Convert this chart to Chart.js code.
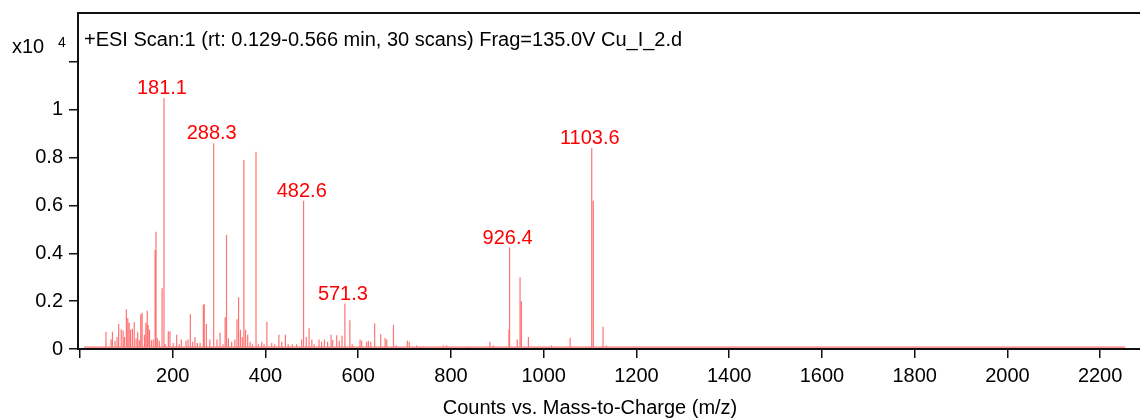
<!DOCTYPE html>
<html>
<head>
<meta charset="utf-8">
<script src="https://cdn.jsdelivr.net/npm/chart.js@4.4.1/dist/chart.umd.min.js"></script>
<style>
  html, body { margin: 0; padding: 0; background: #ffffff; }
  #wrap { width: 1140px; height: 418px; position: relative; }
</style>
</head>
<body>
<div id="wrap"><canvas id="c" width="1140" height="418"></canvas></div>
<script>
// ---- Data (m/z, counts x10^4) ----
const peakMz = [56, 67, 70, 75.5, 80, 83.5, 89, 93, 96, 100, 103, 106, 109, 113, 117, 121, 124.5, 128, 131, 134,
  139, 142, 145, 147, 150, 154, 158, 162, 164, 167, 171, 177, 181.1, 184, 190.5, 194, 201, 208.5, 214, 218.5,
  228.6, 233, 238, 243, 248, 253, 259, 266, 268, 272.5, 280, 288.3, 295.5, 302, 308.5, 313, 316, 320, 327, 334,
  338.6, 342, 346, 350, 353.5, 357, 361.7, 367, 372, 379.6, 384.6, 392, 397, 403, 413.5, 420, 429, 435, 443, 449,
  458, 467, 478, 481.5, 482.6, 488, 494, 500, 505, 515.5, 521, 527, 534, 541.5, 545, 553.6, 559, 565, 571.3, 582,
  587, 604, 607.6, 618, 622, 627, 635.5, 648.6, 658, 661.5, 676, 682, 706, 710, 726, 740, 784, 791, 838, 884,
  891.6, 925, 926.4, 943, 949, 952, 967, 1017, 1057, 1103.6, 1107, 1128, 1135];
const peakCounts = [0.072, 0.04, 0.072, 0.035, 0.05, 0.105, 0.082, 0.077, 0.05, 0.166, 0.13, 0.11, 0.08, 0.085, 0.113, 0.045, 0.07, 0.038, 0.145, 0.152,
  0.06, 0.11, 0.16, 0.1, 0.08, 0.037, 0.04, 0.414, 0.49, 0.045, 0.035, 0.254, 1.05, 0.02, 0.074, 0.074, 0.025, 0.06, 0.02, 0.04,
  0.035, 0.04, 0.145, 0.03, 0.05, 0.025, 0.025, 0.184, 0.188, 0.105, 0.04, 0.86, 0.04, 0.068, 0.02, 0.133, 0.477, 0.045, 0.03, 0.04,
  0.124, 0.216, 0.08, 0.05, 0.79, 0.08, 0.06, 0.03, 0.02, 0.825, 0.02, 0.03, 0.02, 0.114, 0.025, 0.02, 0.06, 0.03, 0.06, 0.02,
  0.02, 0.02, 0.04, 0.11, 0.62, 0.05, 0.087, 0.04, 0.02, 0.04, 0.03, 0.04, 0.03, 0.06, 0.038, 0.058, 0.035, 0.055, 0.19, 0.12,
  0.02, 0.04, 0.035, 0.03, 0.035, 0.03, 0.107, 0.062, 0.046, 0.04, 0.1, 0.015, 0.035, 0.03, 0.015, 0.012, 0.015, 0.015, 0.012, 0.03,
  0.015, 0.08, 0.424, 0.04, 0.30, 0.2, 0.05, 0.015, 0.047, 0.84, 0.62, 0.093, 0.015];
const baseLevel = 0.008;
const scanStart = 9;
const scanEnd = 2254;

// Labelled peaks
const labelMz = [181.1, 288.3, 482.6, 571.3, 926.4, 1103.6];
const labelCounts = [1.05, 0.86, 0.62, 0.19, 0.424, 0.84];
const labelText = ['181.1', '288.3', '482.6', '571.3', '926.4', '1103.6'];

// Axis ticks
const xTicks = [0, 200, 400, 600, 800, 1000, 1200, 1400, 1600, 1800, 2000, 2200];
const yTicks = [0, 0.2, 0.4, 0.6, 0.8, 1, 1.2];

const titleText = '+ESI Scan:1 (rt: 0.129-0.566 min, 30 scans) Frag=135.0V Cu_I_2.d';
const xTitle = 'Counts vs. Mass-to-Charge (m/z)';

// Build stick spectrum profile from the peak list
const profile = [{x: scanStart, y: baseLevel}];
peakMz.forEach((m, i) => {
  profile.push({x: m, y: baseLevel});
  profile.push({x: m, y: peakCounts[i]});
  profile.push({x: m, y: baseLevel});
});
profile.push({x: scanEnd, y: baseLevel});

const FONT = '"Liberation Sans", Arial, sans-serif';

const decor = {
  id: 'decor',
  afterDraw(chart) {
    const ctx = chart.ctx;
    const a = chart.chartArea;
    const xs = chart.scales.x, ys = chart.scales.y;
    ctx.save();
    // top frame line
    ctx.strokeStyle = '#111';
    ctx.lineWidth = 2;
    ctx.beginPath();
    ctx.moveTo(a.left - 1, a.top);
    ctx.lineTo(a.right, a.top);
    ctx.stroke();
    // title
    ctx.fillStyle = '#000';
    ctx.font = '20px ' + FONT;
    ctx.textBaseline = 'middle';
    ctx.textAlign = 'left';
    ctx.fillText(titleText, 84, 40);
    // exponent label
    ctx.font = '20px ' + FONT;
    ctx.textAlign = 'center';
    ctx.fillText('x10', 28, 47);
    ctx.font = '14px ' + FONT;
    ctx.fillText('4', 62, 43);
    // x title
    ctx.font = '20px ' + FONT;
    ctx.fillText(xTitle, 590, 408);
    // peak labels
    ctx.fillStyle = '#ff0000';
    ctx.font = '20px ' + FONT;
    ctx.textBaseline = 'alphabetic';
    labelMz.forEach((m, i) => {
      const px = xs.getPixelForValue(m) - 2;
      const py = ys.getPixelForValue(labelCounts[i]) - 4;
      ctx.fillText(labelText[i], px, py);
    });
    ctx.restore();
  }
};

new Chart(document.getElementById('c'), {
  type: 'line',
  data: {
    datasets: [{
      data: profile,
      borderColor: 'rgba(255,0,0,0.55)',
      borderWidth: 1.2,
      pointRadius: 0,
      tension: 0,
      fill: false
    }]
  },
  options: {
    responsive: false,
    animation: false,
    events: [],
    layout: { padding: { top: 13, right: 0, left: 0, bottom: 0 } },
    plugins: { legend: { display: false }, tooltip: { enabled: false } },
    scales: {
      x: {
        type: 'linear',
        min: -4.3,
        max: 2286,
        afterBuildTicks: s => { s.ticks = xTicks.map(v => ({value: v})); },
        afterFit: s => { s.height = 69; s.paddingLeft = 0; s.paddingRight = 0; },
        grid: { display: true, drawOnChartArea: false, drawTicks: true, tickLength: 9, color: '#111', lineWidth: 1.5 },
        border: { display: true, color: '#111', width: 2 },
        ticks: {
          padding: 6,
          color: '#000',
          font: { family: FONT, size: 20 },
          maxRotation: 0,
          autoSkip: false,
          callback: v => (v === 0 ? '' : String(v))
        }
      },
      y: {
        type: 'linear',
        min: 0,
        max: 1.405,
        afterBuildTicks: s => { s.ticks = yTicks.map(v => ({value: v})); },
        afterFit: s => { s.width = 78; s.paddingTop = 0; s.paddingBottom = 0; },
        grid: { display: true, drawOnChartArea: false, drawTicks: true, tickLength: 9, color: '#111', lineWidth: 1.5 },
        border: { display: true, color: '#111', width: 2 },
        ticks: {
          padding: 6,
          color: '#000',
          font: { family: FONT, size: 20 },
          autoSkip: false,
          callback: v => (v >= 1.2 ? '' : String(Math.round(v * 10) / 10))
        }
      }
    }
  },
  plugins: [decor]
});
</script>
</body>
</html>
